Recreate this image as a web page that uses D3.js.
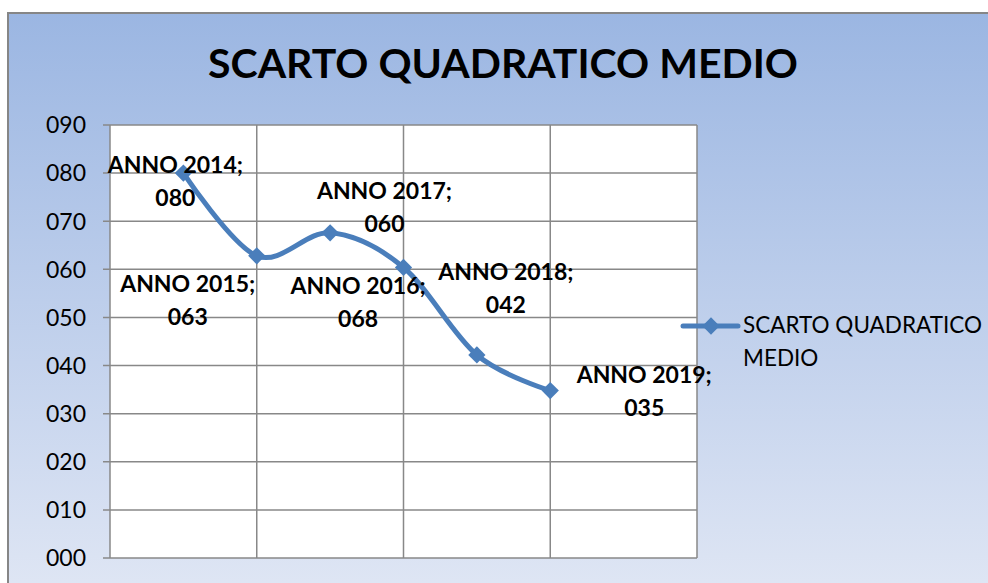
<!DOCTYPE html>
<html>
<head>
<meta charset="utf-8">
<script src="https://cdn.jsdelivr.net/npm/d3@7"></script>
<style>
  html, body { margin: 0; padding: 0; background: #fff; }
  svg { display: block; }
</style>
</head>
<body>
<div id="chart"></div>
<script>
// data
const categories = ['ANNO 2014', 'ANNO 2015', 'ANNO 2016', 'ANNO 2017', 'ANNO 2018', 'ANNO 2019'];
const xValues = [1, 2, 3, 4, 5, 6];
const values = [80.0, 62.8, 67.6, 60.4, 42.2, 34.8];
const yTicks = [0, 10, 20, 30, 40, 50, 60, 70, 80, 90];
const xGrid = [0, 2, 4, 6, 8];
const seriesName = 'SCARTO QUADRATICO MEDIO';
const title = 'SCARTO QUADRATICO MEDIO';

// where Excel dropped each data label, relative to its point
const labelOffsets = [[-8, 0], [-69, 36], [28, 61], [-19, -68], [29, -75], [94, -8]];

const width = 988, height = 583;
const margin = {top: 125, right: 291, bottom: 25, left: 110};
const lineColor = '#4a7ebb';
const gridColor = '#888888';
const font = 'Lato, "Open Sans", sans-serif';

const svg = d3.select('#chart')
  .append('svg')
  .attr('width', width)
  .attr('height', height);

const defs = svg.append('defs');
const grad = defs.append('linearGradient')
  .attr('id', 'bg')
  .attr('x1', 0).attr('y1', 0)
  .attr('x2', 0).attr('y2', 1);
grad.append('stop').attr('offset', '0%').attr('stop-color', '#9bb6e2');
grad.append('stop').attr('offset', '100%').attr('stop-color', '#e2e8f5');

// chart frame (runs off the right and bottom of the picture)
svg.append('rect')
  .attr('x', 8)
  .attr('y', 13)
  .attr('width', width + 20)
  .attr('height', height + 20)
  .attr('fill', 'url(#bg)')
  .attr('stroke', '#868686')
  .attr('stroke-width', 2);

const x = d3.scaleLinear()
  .domain([0, 8])
  .range([margin.left, width - margin.right]);

const y = d3.scaleLinear()
  .domain([0, 90])
  .range([height - margin.bottom, margin.top]);

// plot area
svg.append('rect')
  .attr('x', x(0))
  .attr('y', y(90))
  .attr('width', x(8) - x(0))
  .attr('height', y(0) - y(90))
  .attr('fill', '#fff');

// gridlines
svg.append('g')
  .selectAll('line')
  .data(yTicks)
  .join('line')
  .attr('x1', x(0) - 7)
  .attr('x2', x(8))
  .attr('y1', d => y(d))
  .attr('y2', d => y(d))
  .attr('stroke', gridColor)
  .attr('stroke-width', 1.5);

svg.append('g')
  .selectAll('line')
  .data(xGrid)
  .join('line')
  .attr('x1', d => x(d))
  .attr('x2', d => x(d))
  .attr('y1', y(0))
  .attr('y2', y(90))
  .attr('stroke', gridColor)
  .attr('stroke-width', 1.5);

// y axis labels
svg.append('g')
  .attr('font-family', font)
  .attr('font-size', 23)
  .attr('text-anchor', 'end')
  .selectAll('text')
  .data(yTicks)
  .join('text')
  .attr('x', x(0) - 24)
  .attr('y', d => y(d))
  .attr('dy', '0.36em')
  .text(d => d3.format('03d')(d));

// title
svg.append('text')
  .attr('x', 503)
  .attr('y', 78)
  .attr('text-anchor', 'middle')
  .attr('font-family', font)
  .attr('font-weight', 'bold')
  .attr('font-size', 41)
  .text(title);

const points = xValues.map((d, i) => ({x: d, value: values[i], name: categories[i], off: labelOffsets[i]}));

// the smoothed line
svg.append('path')
  .datum(points)
  .attr('fill', 'none')
  .attr('stroke', lineColor)
  .attr('stroke-width', 5)
  .attr('stroke-linejoin', 'round')
  .attr('d', d3.line()
    .x(d => x(d.x))
    .y(d => y(d.value))
    .curve(d3.curveCardinal.tension(0)));

const diamond = d3.symbol().type(d3.symbolDiamond2).size(190);

svg.append('g')
  .selectAll('path')
  .data(points)
  .join('path')
  .attr('transform', d => `translate(${x(d.x)},${y(d.value)})`)
  .attr('d', diamond)
  .attr('fill', lineColor);

// data labels
const labels = svg.append('g')
  .attr('font-family', font)
  .attr('font-weight', 'bold')
  .attr('font-size', 23)
  .attr('text-anchor', 'middle')
  .selectAll('text')
  .data(points)
  .join('text')
  .attr('transform', d => `translate(${x(d.x) + d.off[0]},${y(d.value) + d.off[1]})`);

labels.append('tspan')
  .attr('x', 0)
  .attr('y', 0)
  .text(d => d.name + ';');

labels.append('tspan')
  .attr('x', 0)
  .attr('y', 33)
  .text(d => d3.format('03.0f')(d.value));

// legend
const legend = svg.append('g')
  .attr('transform', 'translate(683,326)');

legend.append('line')
  .attr('x1', 0)
  .attr('x2', 55)
  .attr('stroke', lineColor)
  .attr('stroke-width', 5)
  .attr('stroke-linecap', 'round');

legend.append('path')
  .attr('transform', 'translate(28,0)')
  .attr('d', diamond)
  .attr('fill', lineColor);

legend.append('text')
  .attr('font-family', font)
  .attr('font-size', 22.5)
  .selectAll('tspan')
  .data(['SCARTO QUADRATICO', 'MEDIO'])
  .join('tspan')
  .attr('x', 60)
  .attr('y', (d, i) => 7 + i * 33)
  .text(d => d);
</script>
</body>
</html>
